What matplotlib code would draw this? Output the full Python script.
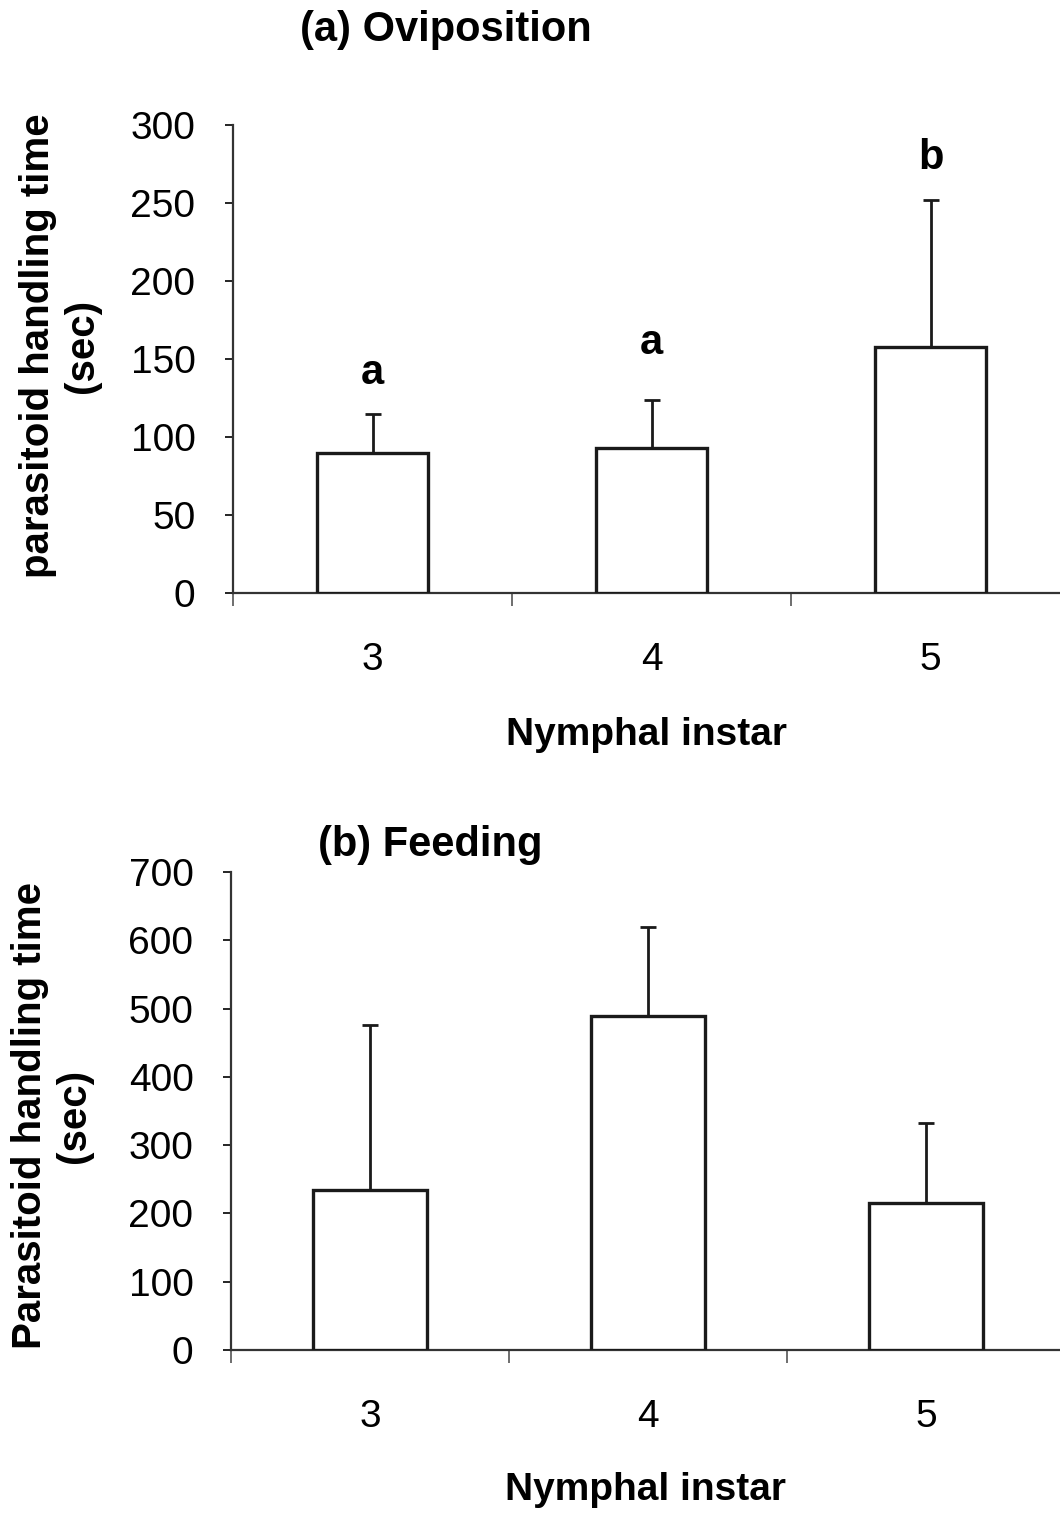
import numpy as np
import matplotlib
matplotlib.use("Agg")
import matplotlib.pyplot as plt

plt.rcParams['font.family'] = ['Liberation Sans', 'DejaVu Sans']

# data
instars = ['3', '4', '5']

ovi_mean = [90, 93, 158]
ovi_err = [25, 31, 94]
ovi_letters = ['a', 'a', 'b']
ovi_letter_y = [141, 160, 279]

feed_mean = [234, 489, 215]
feed_err = [242, 130, 117]

fig = plt.figure(figsize=(10.6, 15.13), dpi=100)

ax1 = fig.add_axes([233 / 1060, 1 - 593 / 1513, (1060 - 233) / 1060, 468 / 1513])
ax2 = fig.add_axes([231 / 1060, 1 - 1350 / 1513, (1060 - 231) / 1060, 478 / 1513])


def style_axis(ax, xmax, ymax, ystep, ylabel, ylab_xy, xlab_y):
    x = np.arange(len(instars)) + 0.5
    ax.set_xlim(0, xmax)
    ax.set_ylim(0, ymax)
    ax.set_yticks(np.arange(0, ymax + 1, ystep))
    ax.spines['top'].set_visible(False)
    ax.spines['right'].set_visible(False)
    for s in ('left', 'bottom'):
        ax.spines[s].set_linewidth(1.6)
        ax.spines[s].set_color('#333333')
    # category boundaries get the tick marks, labels sit in between
    ax.set_xticks([0, 1, 2])
    ax.set_xticklabels([])
    ax.set_xticks(x, minor=True)
    ax.set_xticklabels(instars, minor=True, fontsize=28)
    ax.tick_params(axis='x', which='major', direction='out', length=9, width=1.2, colors='#555555')
    ax.tick_params(axis='x', which='minor', length=0, pad=35, labelcolor='black')
    ax.tick_params(axis='y', direction='out', length=6, width=1.2, labelsize=28, pad=21)
    ax.set_ylabel(ylabel, fontsize=29, fontweight='bold', linespacing=1.2, va='center')
    ax.yaxis.set_label_coords(*ylab_xy)
    ax.set_xlabel('Nymphal instar', fontsize=28, fontweight='bold', va='center')
    ax.xaxis.set_label_coords(0.5, xlab_y)
    return x


x1 = style_axis(ax1, (1060 - 233) / 279, 300, 50, 'parasitoid handling time\n(sec)',
                (-0.209, 0.528), -0.303)
ax1.bar(x1, ovi_mean, width=0.40, color='white', edgecolor='#1a1a1a', linewidth=2.4, zorder=3)
ax1.errorbar(x1, ovi_mean, yerr=[np.zeros(3), ovi_err], fmt='none', ecolor='#1a1a1a',
             elinewidth=2, capsize=6, capthick=2, zorder=2)
for xi, lab, ly in zip(x1, ovi_letters, ovi_letter_y):
    ax1.text(xi, ly, lab, ha='center', va='center', fontsize=30, fontweight='bold')
fig.text(446 / 1060, 1 - 30 / 1513, '(a) Oviposition', ha='center', va='center',
         fontsize=30, fontweight='bold')

x2 = style_axis(ax2, (1060 - 231) / 278, 700, 100, 'Parasitoid handling time\n(sec)',
                (-0.216, 0.49), -0.293)
ax2.bar(x2, feed_mean, width=0.41, color='white', edgecolor='#1a1a1a', linewidth=2.4, zorder=3)
ax2.errorbar(x2, feed_mean, yerr=[np.zeros(3), feed_err], fmt='none', ecolor='#1a1a1a',
             elinewidth=2, capsize=6, capthick=2, zorder=2)
fig.text(318 / 1060, 1 - 845 / 1513, '(b) Feeding', ha='left', va='center',
         fontsize=30, fontweight='bold')

fig.savefig('out.png', dpi=100, facecolor='white')
